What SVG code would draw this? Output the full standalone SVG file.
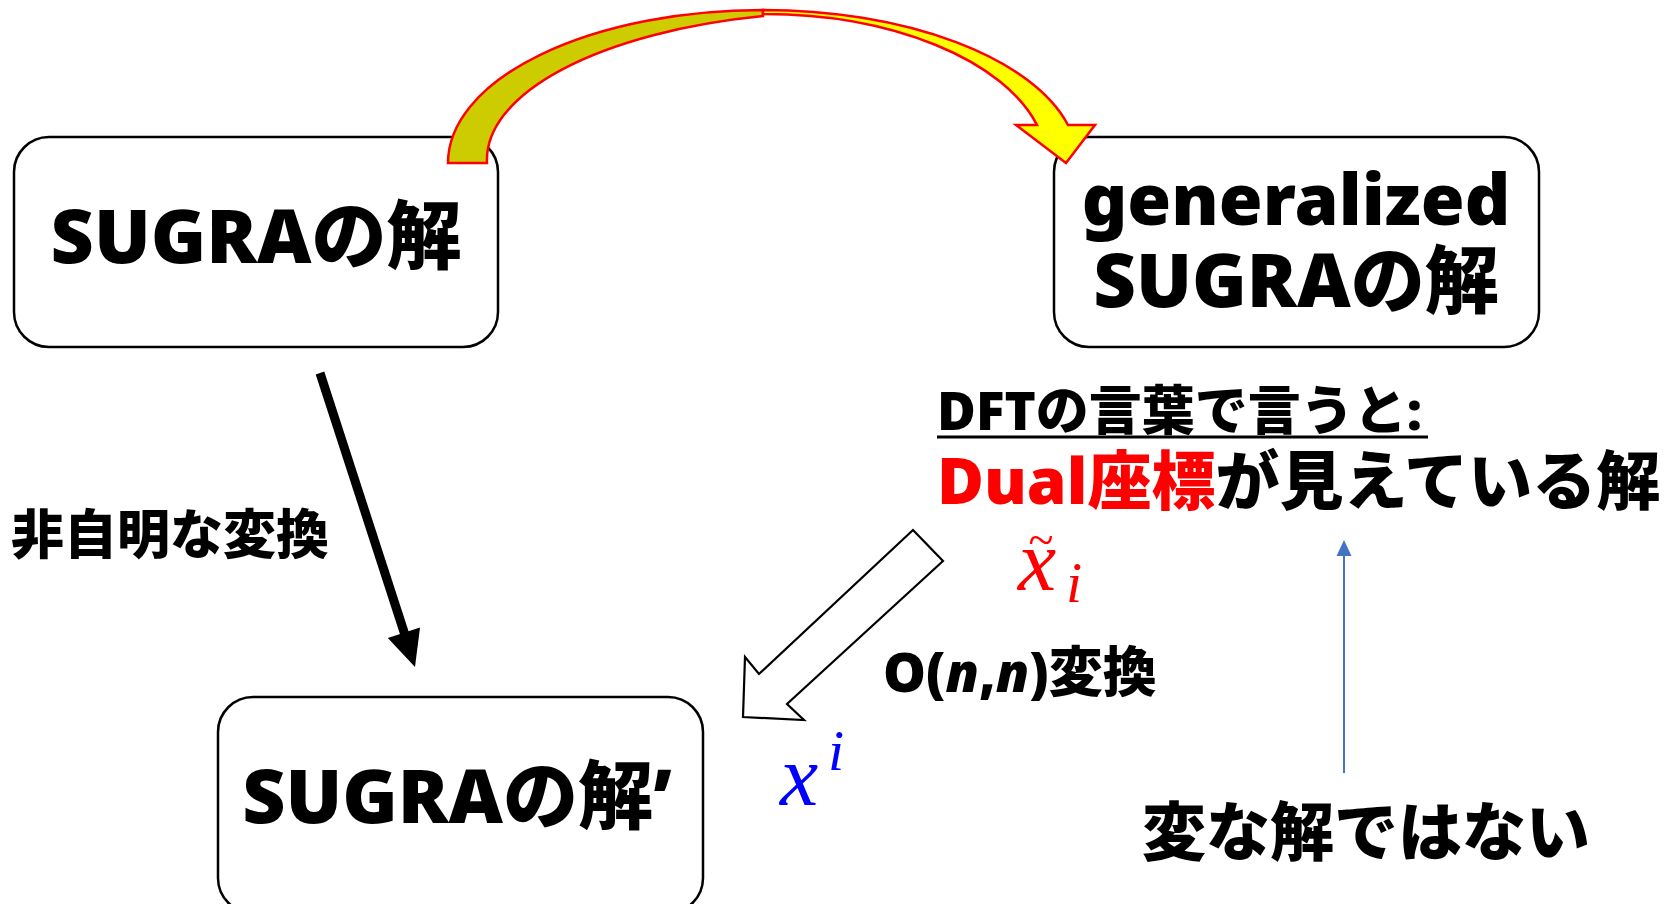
<svg xmlns="http://www.w3.org/2000/svg" width="1670" height="904" viewBox="0 0 1670 904">
<style>
.box{fill:#fff;stroke:#000;stroke-width:2.5}
.t{font-family:"Noto Sans","Noto Sans CJK JP",sans-serif;font-weight:900;fill:#000}
.math{font-family:"Liberation Serif",serif;font-style:italic}
</style>
<rect width="1670" height="904" fill="#fff"/>
<g id="node-sugra">
<rect class="box" x="14" y="137" width="484" height="210" rx="35"/>
<text class="t" x="256" y="263" font-size="75" text-anchor="middle">SUGRAの解</text>
</g>
<g id="node-generalized">
<rect class="box" x="1054" y="137" width="485" height="210" rx="35"/>
<text class="t" x="1296" y="225" font-size="71" text-anchor="middle">generalized</text>
<text class="t" x="1296" y="307" font-size="74" text-anchor="middle">SUGRAの解</text>
</g>
<g id="node-sugra-prime">
<rect class="box" x="218" y="697" width="485" height="216" rx="35"/>
<text class="t" x="457" y="823" font-size="75" text-anchor="middle">SUGRAの解’</text>
</g>
<g id="connectors">
<path d="M448,163 A315,153 0 0 1 763,10 L763,16 A361,148 0 0 0 487,163 Z" fill="#CCCC00" stroke="#FF0000" stroke-width="2.5" stroke-linejoin="miter"/>
<path d="M763,10 A315,153 0 0 1 1068,125 L1095,125 L1066,163 L1016,125 L1037,125 A283,151 0 0 0 763,14 Z" fill="#FFFF00" stroke="#FF0000" stroke-width="2.5" stroke-linejoin="miter"/>
<line x1="320" y1="373" x2="405" y2="635" stroke="#000" stroke-width="9"/>
<polygon points="415,667 387.8,637.9 420,627.5" fill="#000"/>
<polygon points="913,530 759,674 745,657 743,717 804,720 787,704 943,561" fill="#fff" stroke="#000" stroke-width="2.2"/>
<line x1="1344" y1="773" x2="1344" y2="553" stroke="#4472C4" stroke-width="2"/>
<polygon points="1344,540 1336.5,556 1351.5,556" fill="#4472C4"/>
</g>
<g id="labels">
<text class="t" x="11" y="554" font-size="53">非自明な変換</text>
<text class="t" x="937" y="430" font-size="53">DFTの言葉で言うと:</text>
<line x1="937" y1="437" x2="1428" y2="437" stroke="#000" stroke-width="3"/>
<text class="t" x="937" y="504" font-size="64"><tspan fill="#FF0000">Dual座標</tspan>が見えている解</text>
<text class="t" x="883" y="692" font-size="54">O(<tspan font-style="italic">n</tspan>,<tspan font-style="italic">n</tspan>)変換</text>
<text class="t" x="1142" y="855" font-size="64">変な解ではない</text>
<g id="math-xtilde" fill="#FF0000">
<text class="math" x="1018" y="590" font-size="86">x</text>
<text class="math" x="1028" y="555" font-size="46">~</text>
<text class="math" x="1066" y="602" font-size="58">i</text>
</g>
<g id="math-xi" fill="#0000FF">
<text class="math" x="780" y="805" font-size="86">x</text>
<text class="math" x="828" y="770" font-size="58">i</text>
</g>
</g>
</svg>
